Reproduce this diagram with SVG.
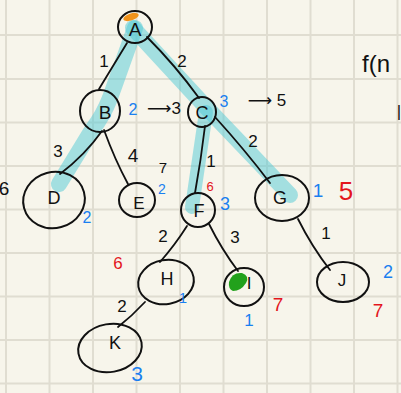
<svg xmlns="http://www.w3.org/2000/svg" width="401" height="393" viewBox="0 0 401 393">
<defs>
<style>
.grid line{stroke:#e0ddd1;stroke-width:2}
.hl{fill:none;stroke:#4fcad6;stroke-opacity:0.5;stroke-width:16;stroke-linecap:round;stroke-linejoin:round}
.edge{fill:none;stroke:#111;stroke-width:1.8;stroke-linecap:round}
.ring{fill:none;stroke:#111;stroke-width:2}
text{font-family:"Liberation Sans","DejaVu Sans",sans-serif;text-anchor:middle;dominant-baseline:central}
.lbl{fill:#111}
.w{fill:#111}
.b{fill:#1a7ff0}
.r{fill:#e3151c}
</style>
</defs>
<rect width="401" height="393" fill="#f7f5eb"/>
<g class="grid">
<line x1="6" y1="0" x2="6" y2="393"/><line x1="49.5" y1="0" x2="49.5" y2="393"/><line x1="93" y1="0" x2="93" y2="393"/><line x1="136.5" y1="0" x2="136.5" y2="393"/><line x1="180" y1="0" x2="180" y2="393"/><line x1="223.5" y1="0" x2="223.5" y2="393"/><line x1="267" y1="0" x2="267" y2="393"/><line x1="310.5" y1="0" x2="310.5" y2="393"/><line x1="354" y1="0" x2="354" y2="393"/><line x1="397.5" y1="0" x2="397.5" y2="393"/>
<line x1="0" y1="35" x2="401" y2="35"/><line x1="0" y1="79" x2="401" y2="79"/><line x1="0" y1="122.5" x2="401" y2="122.5"/><line x1="0" y1="166" x2="401" y2="166"/><line x1="0" y1="209.5" x2="401" y2="209.5"/><line x1="0" y1="253" x2="401" y2="253"/><line x1="0" y1="296.5" x2="401" y2="296.5"/><line x1="0" y1="340" x2="401" y2="340"/><line x1="0" y1="383.5" x2="401" y2="383.5"/>
</g>
<g id="highlight">
<path class="hl" d="M135,28 L110,98 Q103,116 92,130 L59,184"/>
<path class="hl" d="M133,28 L205,106 L290,195"/>
<path class="hl" d="M206,112 L192,207" style="stroke-width:14"/>
</g>
<g id="connectors">
<path class="edge" d="M127,43 L99,89"/>
<path class="edge" d="M147,37 Q175,65 199,98"/>
<path class="edge" d="M102,131 Q85,155 60,174"/>
<path class="edge" d="M104,130 Q115,160 128,184"/>
<path class="edge" d="M205,126 Q201,160 195,193"/>
<path class="edge" d="M215,117 Q245,150 270,183"/>
<path class="edge" d="M187,226 Q175,245 160,262"/>
<path class="edge" d="M209,224 Q222,250 238,271"/>
<path class="edge" d="M298,219 Q312,247 330,270"/>
<path class="edge" d="M145,302 Q132,316 118,327"/>
</g>
<g id="A" font-size="19"><ellipse class="ring" cx="135" cy="27" rx="17" ry="16"/><ellipse cx="131" cy="17" rx="8" ry="3.5" transform="rotate(-18 131 17)" fill="#f0921a"/><text class="lbl" x="135" y="29">A</text></g>
<g id="B" font-size="19"><ellipse class="ring" cx="100" cy="111" rx="20" ry="21"/><text class="lbl" x="105" y="112">B</text></g>
<g id="C" font-size="18"><ellipse class="ring" cx="202" cy="112" rx="14" ry="15"/><text class="lbl" x="202" y="113">C</text></g>
<g id="D" font-size="18"><ellipse class="ring" cx="54" cy="200" rx="31" ry="28" transform="rotate(-15 54 200)"/><text class="lbl" x="54" y="198">D</text></g>
<g id="E" font-size="17"><ellipse class="ring" cx="137" cy="200" rx="18" ry="17"/><text class="lbl" x="139" y="203">E</text></g>
<g id="F" font-size="18"><ellipse class="ring" cx="198" cy="210" rx="17" ry="17"/><text class="lbl" x="199" y="211">F</text></g>
<g id="G" font-size="18"><ellipse class="ring" cx="282" cy="198" rx="27" ry="23"/><text class="lbl" x="280" y="198">G</text></g>
<g id="H" font-size="18"><ellipse class="ring" cx="166" cy="282" rx="28" ry="22" transform="rotate(-10 166 282)"/><text class="lbl" x="167" y="279">H</text></g>
<g id="I" font-size="17"><ellipse class="ring" cx="244" cy="287" rx="20" ry="19"/><path d="M229,282 Q232,272 242,273 Q250,276 246,283 Q241,291 233,291 Q228,289 229,282Z" fill="#22a11c"/><text class="lbl" x="249" y="283">I</text></g>
<g id="J" font-size="17"><ellipse class="ring" cx="343" cy="282" rx="26" ry="20"/><text class="lbl" x="342" y="280">J</text></g>
<g id="K" font-size="18"><ellipse class="ring" cx="110" cy="348" rx="32" ry="24" transform="rotate(-10 110 348)"/><text class="lbl" x="115" y="343">K</text></g>
<g id="labels" font-size="17">
<text class="w" x="104" y="61">1</text>
<text class="w" x="182" y="61">2</text>
<text class="w" x="58" y="151">3</text>
<text class="w" x="133" y="155" font-size="19">4</text>
<text class="w" x="163" y="167" font-size="15">7</text>
<text class="w" x="211" y="161">1</text>
<text class="w" x="253" y="141">2</text>
<text class="w" x="235" y="237">3</text>
<text class="w" x="163" y="236">2</text>
<text class="w" x="326" y="233">1</text>
<text class="w" x="122" y="306">2</text>
<text class="w" x="164" y="108">⟶3</text>
<text class="w" x="267" y="100">⟶ 5</text>
<text class="w" x="4" y="188" font-size="19">6</text>
<text class="w" x="362" y="63" font-size="24" style="text-anchor:start">f(n</text>
<text class="w" x="399" y="111">|</text>
<text class="b" x="133" y="109" font-size="16">2</text>
<text class="b" x="224" y="101" font-size="16">3</text>
<text class="b" x="162" y="189" font-size="14">2</text>
<text class="b" x="87" y="217" font-size="16">2</text>
<text class="b" x="225" y="204" font-size="18">3</text>
<text class="b" x="318" y="190" font-size="19">1</text>
<text class="b" x="388" y="272" font-size="18">2</text>
<text class="b" x="249" y="320" font-size="17">1</text>
<text class="b" x="183" y="297" font-size="15">1</text>
<text class="b" x="137" y="373" font-size="21">3</text>
<text class="r" x="210" y="186" font-size="13">6</text>
<text class="r" x="346" y="191" font-size="26">5</text>
<text class="r" x="278" y="304" font-size="19">7</text>
<text class="r" x="378" y="310" font-size="19">7</text>
<text class="r" x="118" y="263" font-size="17">6</text>
</g>
</svg>
